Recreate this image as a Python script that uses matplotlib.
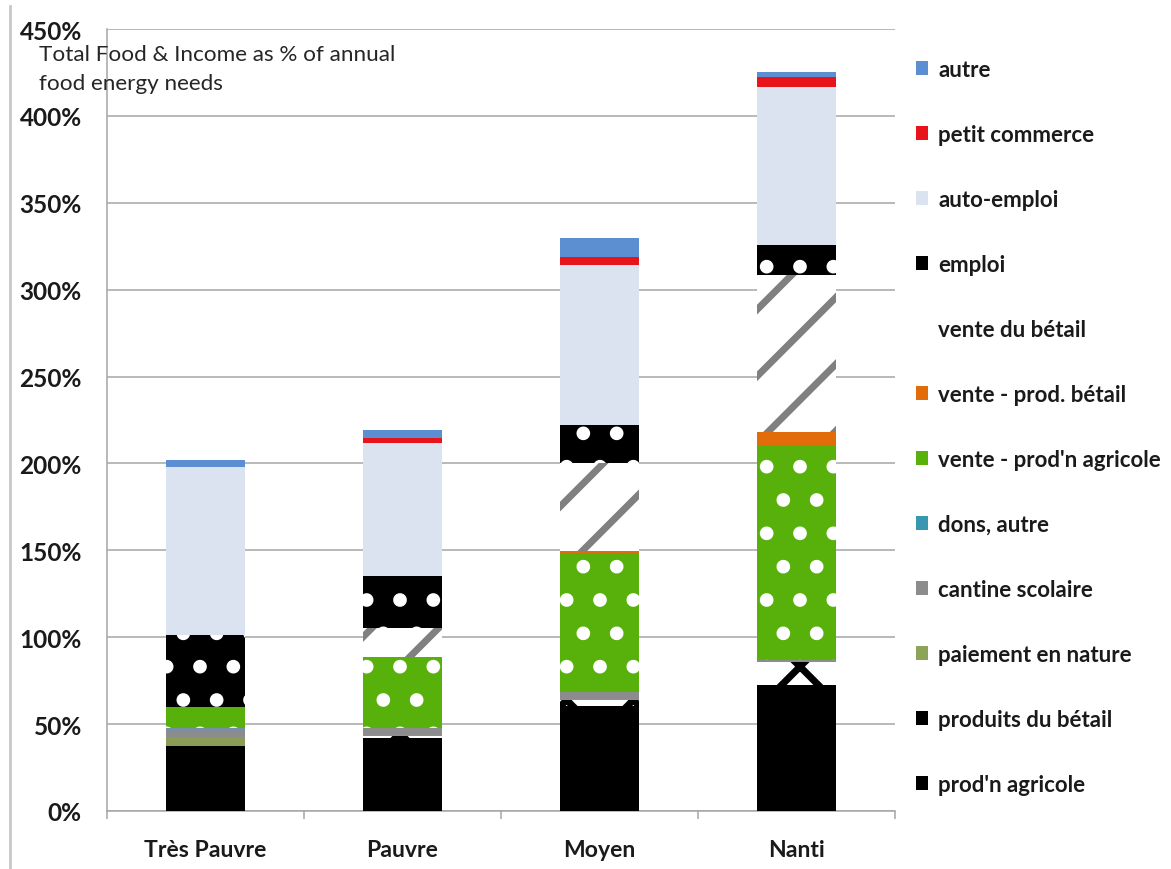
import matplotlib.pyplot as plt
from matplotlib.patches import Patch
from matplotlib.lines import Line2D
from matplotlib.ticker import FuncFormatter

# Catégories de ménages
groupes = ["Très Pauvre", "Pauvre", "Moyen", "Nanti"]

# Sources (en % des besoins énergétiques annuels), du bas vers le haut
prod_agricole = [37.5, 42, 60.5, 72.5]
produits_betail = [0, 1, 3.5, 13]
paiement_nature = [5, 1, 0.5, 0]
cantine = [3, 4, 4, 1.5]
dons_autre = [2, 0, 0, 0]
vente_agricole = [12.5, 40, 80, 123]
vente_prod_betail = [0, 0.5, 1, 8]
vente_betail = [0, 17, 50.5, 90.5]
emploi = [41, 30, 22, 17]
auto_emploi = [97, 76, 92, 91]
petit_commerce = [0, 3, 5, 6]
autre = [4, 4.5, 11, 3]

plt.rcParams['font.family'] = ['Lato', 'DejaVu Sans']
plt.rcParams['hatch.linewidth'] = 2.5

# (libellé, valeurs, couleur, motif, couleur du motif, couleur légende)
series = [
    ("prod'n agricole", prod_agricole, "black", None, None, "black"),
    ("produits du bétail", produits_betail, "white", "x", "black", "black"),
    ("paiement en nature", paiement_nature, "#8A9C55", None, None, "#8DA35A"),
    ("cantine scolaire", cantine, "#8C8C8C", None, None, "#8C8C8C"),
    ("dons, autre", dons_autre, "#7C8EA3", None, None, "#3A97B0"),
    ("vente - prod'n agricole", vente_agricole, "#58B00A", ".", "white", "#58B00A"),
    ("vente - prod. bétail", vente_prod_betail, "#E36C0A", None, None, "#E36C0A"),
    ("vente du bétail", vente_betail, "white", "/", "#808080", "white"),
    ("emploi", emploi, "black", ".", "white", "black"),
    ("auto-emploi", auto_emploi, "#DCE3F0", None, None, "#DCE3F0"),
    ("petit commerce", petit_commerce, "#E8141C", None, None, "#E8141C"),
    ("autre", autre, "#5B8FD1", None, None, "#5B8FD1"),
]

W, H = 1171, 870
fig = plt.figure(figsize=(W / 200, H / 200), dpi=200)
ax = fig.add_axes([107 / W, 1 - 812 / H, (895 - 107) / W, (812 - 30) / H])

x = list(range(len(groupes)))
bas = [0.0] * len(groupes)
for label, vals, fc, hatch, hc, _ in series:
    kw = dict(color=fc, linewidth=0, zorder=3)
    if hatch:
        kw.update(hatch=hatch, edgecolor=hc)
    ax.bar(x, vals, 0.4, bottom=bas, **kw)
    bas = [b + v for b, v in zip(bas, vals)]

ax.set_xlim(-0.5, len(groupes) - 0.5)
ax.set_ylim(0, 450)
ax.set_yticks(range(0, 451, 50))
ax.yaxis.set_major_formatter(FuncFormatter(lambda v, p: f"{v:.0f}%"))
ax.grid(axis='y', color='#A6A6A6', linewidth=0.55, zorder=0)
ax.set_xticks(x)
ax.set_xticklabels(groupes)
ax.set_xticks([i - 0.5 for i in range(len(groupes) + 1)], minor=True)
ax.tick_params(axis='x', which='major', length=0, pad=10)
ax.tick_params(axis='x', which='minor', length=3, width=0.55, color='#A6A6A6')
ax.tick_params(axis='y', length=0, pad=9)
for lab in ax.get_xticklabels():
    lab.set_fontsize(8.3)
for lab in ax.get_yticklabels():
    lab.set_fontsize(8.8)
for lab in ax.get_xticklabels() + ax.get_yticklabels():
    lab.set_fontweight('bold')
    lab.set_color('#1a1a1a')
for s in ['top', 'right']:
    ax.spines[s].set_visible(False)
for s in ['left', 'bottom']:
    ax.spines[s].set_color('#A6A6A6')
    ax.spines[s].set_linewidth(0.55)

fig.text(39 / W, 1 - 45 / H, "Total Food & Income as % of annual\nfood energy needs",
         fontsize=8.1, color='#262626', va='top', linespacing=1.55)

handles = [Patch(facecolor=c, edgecolor='none', label=l) for l, _, _, _, _, c in series][::-1]
leg = fig.legend(handles=handles, loc='upper left', bbox_to_anchor=(916 / W, 1 - 60 / H),
                 frameon=False, prop={'size': 8.0, 'weight': 'bold'},
                 handlelength=0.55, handleheight=0.55, handletextpad=0.45,
                 labelspacing=1.98, borderaxespad=0, borderpad=0)
for t in leg.get_texts():
    t.set_color('#1a1a1a')

# bordure gauche du graphique
fig.add_artist(Line2D([10 / W, 10 / W], [0, 1 - 7 / H], color='#C8C8C8', linewidth=1.0))

fig.savefig("out.png", dpi=200)
